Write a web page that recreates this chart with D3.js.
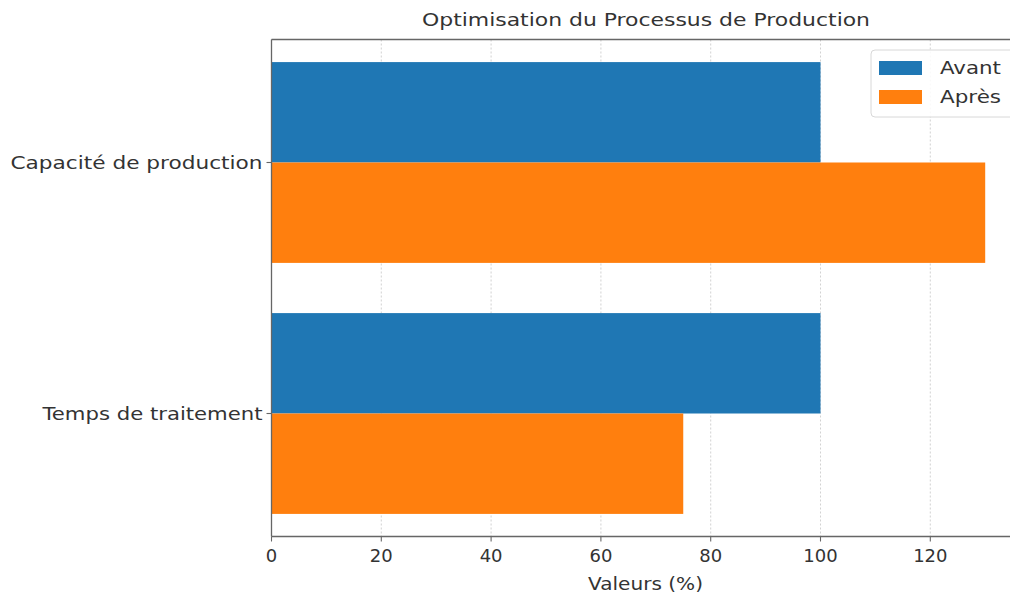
<!DOCTYPE html>
<html><head><meta charset="utf-8">
<script src="https://cdn.jsdelivr.net/npm/d3@7"></script>
<style>body{margin:0;background:#fff}svg{display:block}text{font-family:"DejaVu Sans",sans-serif;fill:#333}</style>
</head><body><svg id="c" width="1010" height="596"></svg>
<script>
const categories = ["Capacité de production", "Temps de traitement"];
const seriesNames = ["Avant", "Après"];
const avant = [100, 100];
const apres = [130, 75];
const xTicks = [0, 20, 40, 60, 80, 100, 120];
const colors = ["#1f77b4", "#ff7f0e"];
const title = "Optimisation du Processus de Production";
const xLabel = "Valeurs (%)";

(function(){
const svg = d3.select("#c");
const pLeft = 271.5, pTop = 39.5, pBottom = 536.5;
const x = d3.scaleLinear().domain([0, 136.5]).range([pLeft, pLeft + 136.5 * 5.49]);
const y = d3.scaleLinear().domain([-0.49, 1.49]).range([pTop, pBottom]);
const bh = 0.4;
const catWidths = [252, 220];

svg.append("g").selectAll("line").data(xTicks).join("line")
  .attr("x1", d => x(d)).attr("x2", d => x(d)).attr("y1", pTop).attr("y2", pBottom)
  .attr("stroke", "#b0b0b0").attr("stroke-width", 0.8).attr("stroke-dasharray", "2,2").attr("opacity", 0.7);

const rows = categories.map((c, i) => ({c, i, vals: [avant[i], apres[i]]}));
const g = svg.append("g");
rows.forEach(r => {
  r.vals.forEach((v, s) => {
    const y0 = s === 0 ? r.i - bh : r.i;
    g.append("rect").attr("x", x(0)).attr("width", x(v) - x(0))
      .attr("y", y(y0)).attr("height", y(y0 + bh) - y(y0)).attr("fill", colors[s]);
  });
});

const sp = "#666";
svg.append("line").attr("x1", pLeft).attr("x2", 1010).attr("y1", pTop).attr("y2", pTop).attr("stroke", sp).attr("stroke-width", 1.3);
svg.append("line").attr("x1", pLeft).attr("x2", 1010).attr("y1", pBottom).attr("y2", pBottom).attr("stroke", sp).attr("stroke-width", 1.3);
svg.append("line").attr("x1", pLeft).attr("x2", pLeft).attr("y1", pTop).attr("y2", pBottom).attr("stroke", sp).attr("stroke-width", 1.3);

const xt = svg.append("g").selectAll("g").data(xTicks).join("g").attr("transform", d => `translate(${x(d)},${pBottom})`);
xt.append("line").attr("y2", 5).attr("stroke", sp).attr("stroke-width", 1.1);
xt.append("text").attr("y", 25).attr("text-anchor", "middle").attr("font-size", 18).text(d => d);

const yt = svg.append("g").selectAll("g").data(rows).join("g").attr("transform", d => `translate(${pLeft},${y(d.i)})`);
yt.append("line").attr("x2", -5).attr("stroke", sp).attr("stroke-width", 1.1);
yt.append("text").attr("x", -9).attr("dy", "0.35em").attr("text-anchor", "end").attr("font-size", 18)
  .attr("textLength", d => catWidths[d.i]).attr("lengthAdjust", "spacingAndGlyphs").text(d => d.c);

svg.append("text").attr("x", 645.5).attr("y", 590).attr("text-anchor", "middle").attr("font-size", 18)
  .attr("textLength", 115).attr("lengthAdjust", "spacingAndGlyphs").text(xLabel);
svg.append("text").attr("x", 646).attr("y", 26).attr("text-anchor", "middle").attr("font-size", 17.5)
  .attr("textLength", 448).attr("lengthAdjust", "spacingAndGlyphs").text(title);

const lg = svg.append("g");
lg.append("rect").attr("x", 871).attr("y", 50).attr("width", 150).attr("height", 67).attr("rx", 4)
  .attr("fill", "#fff").attr("fill-opacity", 0.85).attr("stroke", "#d8d8d8");
seriesNames.forEach((n, s) => {
  lg.append("rect").attr("x", 879).attr("y", 61 + s * 29).attr("width", 43).attr("height", 14).attr("fill", colors[s]);
  lg.append("text").attr("x", 940).attr("y", 68 + s * 29).attr("dy", "0.35em").attr("font-size", 18)
    .attr("textLength", 61).attr("lengthAdjust", "spacingAndGlyphs").text(n);
});
})();
</script></body></html>
